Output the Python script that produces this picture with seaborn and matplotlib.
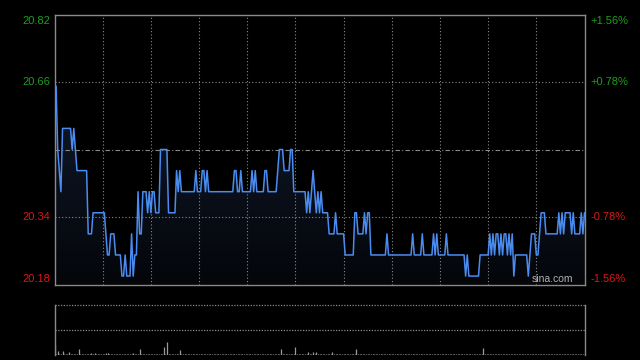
import numpy as np
import matplotlib
matplotlib.use("Agg")
import matplotlib.pyplot as plt
from matplotlib.colors import LinearSegmentedColormap
import seaborn as sns
import pandas as pd

# ---- data ----
price_am = [
    20.65, 20.65, 20.50, 20.45, 20.40, 20.55, 20.55, 20.55, 20.55, 20.55,
    20.55, 20.50, 20.55, 20.50, 20.45, 20.45, 20.45, 20.45, 20.45, 20.45,
    20.45, 20.30, 20.30, 20.30, 20.35, 20.35, 20.35, 20.35, 20.35, 20.35,
    20.35, 20.35, 20.30, 20.25, 20.25, 20.30, 20.30, 20.30, 20.25, 20.25,
    20.25, 20.25, 20.20, 20.20, 20.25, 20.20, 20.20, 20.20, 20.30, 20.20,
    20.25, 20.25, 20.40, 20.30, 20.30, 20.40, 20.40, 20.40, 20.35, 20.40,
    20.35, 20.40, 20.40, 20.35, 20.35, 20.35, 20.50, 20.50, 20.50, 20.50,
    20.50, 20.35, 20.35, 20.35, 20.35, 20.35, 20.45, 20.40, 20.45, 20.40,
    20.40, 20.40, 20.40, 20.40, 20.40, 20.40, 20.40, 20.40, 20.45, 20.40,
    20.40, 20.40, 20.45, 20.45, 20.40, 20.45, 20.40, 20.40, 20.40, 20.40,
    20.40, 20.40, 20.40, 20.40, 20.40, 20.40, 20.40, 20.40, 20.40, 20.40,
    20.40, 20.40, 20.45, 20.45, 20.40, 20.40, 20.45, 20.40, 20.40, 20.40,
    20.40, 20.40, 20.40, 20.45, 20.40, 20.45, 20.40, 20.40, 20.40, 20.40,
    20.40, 20.45, 20.45, 20.40, 20.40, 20.40, 20.40, 20.40, 20.40, 20.45,
    20.50, 20.50, 20.50, 20.45, 20.45, 20.45, 20.45, 20.50, 20.50, 20.40,
    20.40,
]
price_pm = [
    20.40, 20.40, 20.40, 20.40, 20.40, 20.40, 20.35, 20.40, 20.35, 20.40,
    20.45, 20.40, 20.35, 20.40, 20.35, 20.40, 20.35, 20.35, 20.35, 20.35,
    20.30, 20.30, 20.30, 20.30, 20.35, 20.30, 20.30, 20.30, 20.30, 20.30,
    20.25, 20.25, 20.25, 20.25, 20.25, 20.25, 20.35, 20.35, 20.30, 20.30,
    20.30, 20.30, 20.35, 20.30, 20.35, 20.35, 20.25, 20.25, 20.25, 20.25,
    20.25, 20.25, 20.25, 20.25, 20.25, 20.25, 20.30, 20.25, 20.25, 20.25,
    20.25, 20.25, 20.25, 20.25, 20.25, 20.25, 20.25, 20.25, 20.25, 20.25,
    20.25, 20.25, 20.30, 20.25, 20.25, 20.25, 20.25, 20.25, 20.30, 20.25,
    20.25, 20.25, 20.25, 20.25, 20.25, 20.30, 20.25, 20.30, 20.25, 20.25,
    20.25, 20.25, 20.25, 20.30, 20.25, 20.25, 20.25, 20.25, 20.25, 20.25,
    20.25, 20.25, 20.25, 20.25, 20.25, 20.20, 20.25, 20.20, 20.20, 20.20,
    20.20, 20.20, 20.20, 20.20, 20.25, 20.25, 20.25, 20.25, 20.25, 20.25,
    20.30, 20.25, 20.30, 20.25, 20.30, 20.30, 20.25, 20.30, 20.25, 20.30,
    20.30, 20.25, 20.30, 20.25, 20.30, 20.20, 20.25, 20.25, 20.25, 20.25,
    20.25, 20.25, 20.25, 20.25, 20.20, 20.25, 20.30, 20.30, 20.30, 20.25,
    20.25, 20.30, 20.35, 20.35, 20.35, 20.30, 20.30, 20.30, 20.30, 20.30,
    20.30, 20.30, 20.30, 20.35, 20.30, 20.35, 20.30, 20.35, 20.35, 20.35,
    20.35, 20.30, 20.35, 20.30, 20.30, 20.30, 20.30, 20.35, 20.30, 20.35,
]
volume = [
    10, 1, 4, 1, 1, 4, 1, 1, 1, 3, 1, 1, 1, 1, 1, 6, 1, 1, 1, 1, 1, 1, 1, 2, 1, 2, 1, 1, 1, 1,
    1, 1, 2, 2, 1, 1, 1, 1, 1, 1, 1, 1, 1, 1, 1, 1, 1, 1, 1, 2, 1, 1, 1, 6, 1, 1, 1, 1, 1, 1,
    1, 1, 1, 1, 1, 1, 1, 1, 8, 1, 13, 1, 1, 1, 1, 1, 1, 1, 5, 1, 1, 1, 1, 1, 1, 1, 1, 1, 1, 1,
    1, 1, 1, 1, 1, 1, 1, 1, 1, 1, 1, 1, 1, 1, 1, 1, 1, 1, 1, 1, 1, 1, 1, 1, 1, 1, 1, 1, 1, 1,
    1, 1, 1, 1, 1, 1, 1, 1, 1, 1, 1, 1, 1, 1, 1, 1, 1, 1, 1, 1, 1, 6, 1, 1, 1, 1, 1, 1, 1, 1,
    8, 1, 1, 1, 1, 1, 1, 1, 3, 1, 1, 3, 1, 3, 1, 1, 1, 1, 1, 1, 1, 1, 1, 3, 1, 1, 1, 1, 1, 1,
    1, 1, 1, 1, 1, 1, 1, 1, 6, 1, 1, 1, 1, 1, 1, 1, 1, 1, 1, 1, 1, 1, 1, 1, 1, 1, 1, 1, 1, 1,
    1, 1, 1, 1, 1, 1, 1, 1, 1, 1, 1, 1, 1, 1, 1, 1, 1, 1, 1, 1, 1, 1, 1, 1, 1, 1, 1, 1, 1, 1,
    1, 1, 1, 1, 1, 1, 1, 1, 1, 1, 1, 1, 1, 1, 1, 1, 1, 1, 1, 1, 1, 1, 1, 1, 1, 1, 1, 7, 1, 1,
    1, 1, 1, 1, 1, 1, 1, 1, 1, 1, 1, 1, 1, 1, 1, 1, 1, 1, 1, 1, 1, 1, 1, 1, 1, 1, 1, 1, 1, 1,
    1, 1, 1, 1, 1, 1, 1, 1, 1, 1, 1, 1, 1, 1, 1, 1, 1, 1, 1, 1, 1, 1, 1, 1, 1, 1, 1, 1, 1, 1,
    1,
]
prev_close = 20.50
left_ticks = [20.82, 20.66, 20.34, 20.18]
left_labels = ["20.82", "20.66", "20.34", "20.18"]
right_labels = ["+1.56%", "+0.78%", "-0.78%", "-1.56%"]
label_colors = ["#1e9e1e", "#1e9e1e", "#d81818", "#d81818"]

prices = price_am + price_pm
df = pd.DataFrame({"minute": np.arange(len(prices)), "price": prices})
dv = pd.DataFrame({"minute": np.arange(len(volume)), "vol": volume})

sns.set_style("dark")
plt.rcParams["font.family"] = ["Liberation Sans", "DejaVu Sans"]

fig = plt.figure(figsize=(6.4, 3.6), dpi=100, facecolor="black")
W, H = 640.0, 360.0
ax = fig.add_axes([54.5 / W, 1 - 284.5 / H, 530 / W, 270 / H])
ax2 = fig.add_axes([54.5 / W, 1 - 355 / H, 530 / W, 50 / H])
for a in (ax, ax2):
    a.set_facecolor("black")
    a.set_xlim(0, 330)
    a.set_xticks([])
    a.set_yticks([])
    a.grid(False)

ymin, ymax = 20.18, 20.82
ax.set_ylim(ymin, ymax)

# gradient fill under the line
poly = ax.fill_between(df["minute"], df["price"], ymin, color="none", lw=0)
cmap = LinearSegmentedColormap.from_list("g", ["#04060a", "#142037"])
img = ax.imshow(np.linspace(0, 1, 256).reshape(-1, 1), cmap=cmap, aspect="auto",
                origin="lower", extent=[0, 330, ymin, ymax], zorder=1)
img.set_clip_path(poly.get_paths()[0], transform=ax.transData)

# grid
grid_c = "#8a8a8a"
for gx in np.arange(30, 330, 30):
    ax.axvline(gx, color=grid_c, lw=0.8, ls=(0, (1, 2)), zorder=2)
for gy in [20.66, 20.34]:
    ax.axhline(gy, color=grid_c, lw=0.8, ls=(0, (1, 2)), zorder=2)
ax.axhline(prev_close, color=grid_c, lw=0.8, ls=(0, (4, 2, 1, 2)), zorder=2)

sns.lineplot(data=df, x="minute", y="price", ax=ax, color="#4a8cf0", lw=1.1,
             zorder=3, legend=False)
ax.set_xlim(0, 330)
ax.set_ylim(ymin, ymax)
ax.set_xlabel("")
ax.set_ylabel("")

for s in ax.spines.values():
    s.set_visible(True)
    s.set_color("#8a8a8a")
    s.set_linewidth(1)

# labels
offsets = [-6, 0, 0, 6]
for v, lab, rlab, c, off in zip(left_ticks, left_labels, right_labels, label_colors, offsets):
    ax.annotate(lab, xy=(0, v), xycoords=("axes fraction", "data"),
                xytext=(-3, off * 0.72), textcoords="offset points",
                ha="right", va="center", color=c, fontsize=8)
    ax.annotate(rlab, xy=(1, v), xycoords=("axes fraction", "data"),
                xytext=(4, off * 0.72), textcoords="offset points",
                ha="left", va="center", color=c, fontsize=8)

ax.text(573 / W, 1 - 279 / H, "sina.com", transform=fig.transFigure,
        ha="right", va="center", color="#b0b0b0", fontsize=7.5, zorder=5)

# volume panel
ax2.set_ylim(0, 50)
ax2.vlines(dv["minute"], 0, dv["vol"], color="#9a9a9a", lw=0.9)
ax2.axhline(50, color=grid_c, lw=0.9, ls=(0, (1, 1.2)), clip_on=False)
ax2.axhline(25, color=grid_c, lw=0.9, ls=(0, (1, 1.2)))
for k in ("top", "bottom"):
    ax2.spines[k].set_visible(False)
for k in ("left", "right"):
    ax2.spines[k].set_visible(True)
    ax2.spines[k].set_color("#8a8a8a")
    ax2.spines[k].set_linewidth(1)

fig.savefig("out.png", dpi=100, facecolor="black")
